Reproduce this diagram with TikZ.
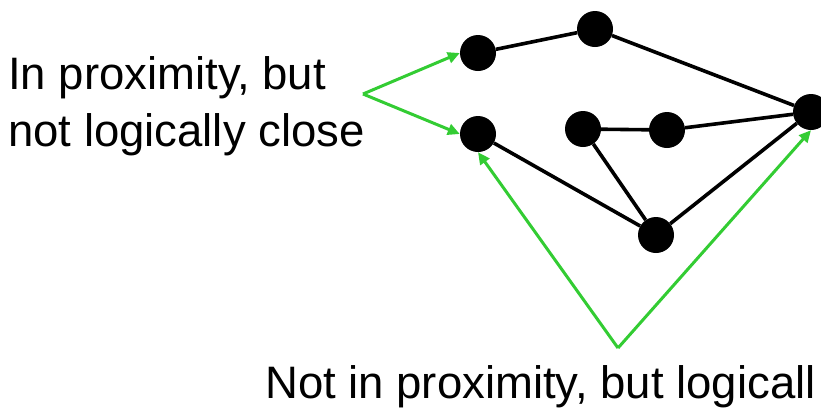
\documentclass[tikz,border=0pt]{standalone}
\usepackage{fontspec}
\setmainfont{Liberation Sans}
\usetikzlibrary{arrows.meta}
\definecolor{arrgreen}{RGB}{51,204,51}
\begin{document}
\begin{tikzpicture}[x=1pt,y=-1pt,
  dot/.style={circle,fill=black,draw=none,minimum size=36pt,inner sep=0pt},
  edge/.style={line width=3.6pt,black},
  pointer/.style={line width=3pt,arrgreen,-{Triangle[length=12pt,width=11pt]}},
  lbl/.style={inner sep=0pt,font=\fontsize{45.5}{45.5}\selectfont}]
\useasboundingbox (0,0) rectangle (821,408);
\clip (0,0) rectangle (821,408);
\node[dot] (A) at (478,53) {};
\node[dot] (B) at (595,29) {};
\node[dot] (C) at (811,112) {};
\node[dot] (D) at (478,134) {};
\node[dot] (E) at (583,129) {};
\node[dot] (F) at (667,130) {};
\node[dot] (G) at (656,235) {};
\draw[edge] (A) -- (B);
\draw[edge] (B) -- (C);
\draw[edge] (E) -- (F);
\draw[edge] (F) -- (C);
\draw[edge] (D) -- (G);
\draw[edge] (E) -- (G);
\draw[edge] (G) -- (C);
\coordinate (p1) at (363,94);
\coordinate (p2) at (618,348);
\draw[pointer] (p1) -- (A.west);
\draw[pointer] (p1) -- (D.west);
\draw[pointer] (p2) -- (D.south);
\draw[pointer] (p2) -- (C.south);
\node[lbl,anchor=base west] (t1) at (8,89) {In proximity, but};
\node[lbl,anchor=base west] (t2) at (8,146) {not logically close};
\node[lbl,anchor=base west] (t3) at (265,398) {Not in proximity, but logicall};
\end{tikzpicture}
\end{document}
